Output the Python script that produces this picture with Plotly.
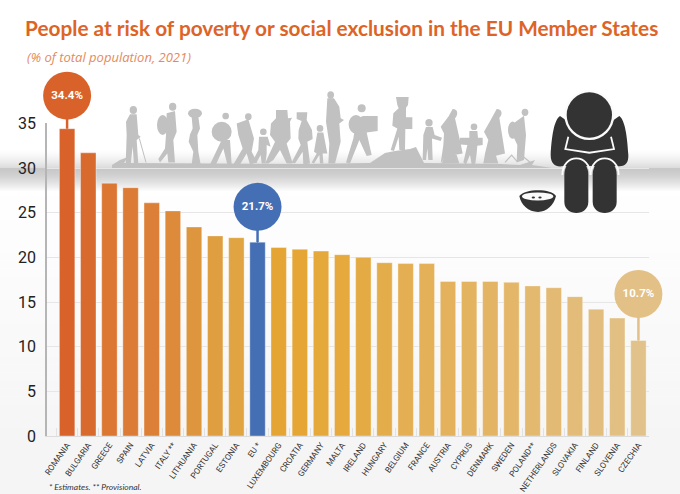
import re
import plotly.graph_objects as go

# ---------- data ----------
countries = ["ROMANIA", "BULGARIA", "GREECE", "SPAIN", "LATVIA", "ITALY **", "LITHUANIA", "PORTUGAL",
             "ESTONIA", "EU *", "LUXEMBOURG", "CROATIA", "GERMANY", "MALTA", "IRELAND", "HUNGARY",
             "BELGIUM", "FRANCE", "AUSTRIA", "CYPRUS", "DENMARK", "SWEDEN", "POLAND**", "NETHERLANDS",
             "SLOVAKIA", "FINLAND", "SLOVENIA", "CZECHIA"]
values = [34.4, 31.7, 28.3, 27.8, 26.1, 25.2, 23.4, 22.4, 22.2, 21.7, 21.1, 20.9, 20.7, 20.3, 20.0,
          19.4, 19.3, 19.3, 17.3, 17.3, 17.3, 17.2, 16.8, 16.6, 15.6, 14.2, 13.2, 10.7]
bar_colors = ["#d8622a", "#d96a2e", "#db7633", "#dc7b35", "#dd8037", "#de8a3b", "#de963e", "#df9f40",
              "#e0a542", "#456fb5", "#e5a534", "#e5a635", "#e5a83a", "#e5a93e", "#e4ab45", "#e4ad4c",
              "#e4ae52", "#e4b058", "#e4b25c", "#e4b360", "#e4b465", "#e4b669", "#e3b86f", "#e3ba74",
              "#e3bc79", "#e3bd7e", "#e2c084", "#e2c28b"]
y_ticks = [0, 5, 10, 15, 20, 25, 30, 35]
callouts = ["ROMANIA", "EU *", "CZECHIA"]
callout_labels = ["34.4%", "21.7%", "10.7%"]
callout_colors = ["#d9622b", "#456fb5", "#e3c085"]
callout_stems = [3.7, 3.95, 5.2]

SANS = "Roboto"
L, R, T, B = 47.0, 649.0, 70.0, 435.7
UNIT = 312.4 / 35            # pixels per percentage point
TOP = (B - T) / UNIT         # value at the top of the drawing region


def px(x):
    return (x - L) / (R - L)


def py(y):
    return (B - y) / (B - T)


def P(d, ox=0.0, oy=0.0, s=1.0):
    """Translate a path written in picture pixels into paper coordinates."""
    toks = re.findall(r"[A-Za-z]|-?\d+\.?\d*", d)
    out, isx = [], True
    for t in toks:
        if t.isalpha():
            out.append(t)
            isx = True
        else:
            v = float(t)
            out.append(f"{px(ox + v * s):.5f}" if isx else f"{py(oy + v * s):.5f}")
            isx = not isx
    return " ".join(out)


shapes = []


def path(d, color, ox=0.0, oy=0.0, s=1.0, layer="between"):
    shapes.append(dict(type="path", xref="paper", yref="paper", path=P(d, ox, oy, s), fillcolor=color,
                       line=dict(width=0), layer=layer))


def stroke(d, color, w, ox=0.0, oy=0.0, s=1.0, layer="between"):
    shapes.append(dict(type="path", xref="paper", yref="paper", path=P(d, ox, oy, s),
                       line=dict(color=color, width=w), layer=layer))


def ell(cx, cy, rx, ry, color, ox=0.0, oy=0.0, s=1.0, layer="between"):
    x, y = ox + cx * s, oy + cy * s
    shapes.append(dict(type="circle", xref="paper", yref="paper", x0=px(x - rx * s), x1=px(x + rx * s),
                       y0=py(y + ry * s), y1=py(y - ry * s), fillcolor=color, line=dict(width=0), layer=layer))


def strip(y0, y1, color, x0=0.0, x1=680.0, layer="between"):
    shapes.append(dict(type="rect", xref="paper", yref="paper", x0=px(x0), x1=px(x1), y0=py(y1), y1=py(y0),
                       fillcolor=color, line=dict(width=0), layer=layer))


def grey(v):
    v = int(round(v))
    return f"rgb({v},{v},{v})"


# page background: white to very light grey
for y in range(180, 494, 8):
    strip(y, y + 8.5, grey(255 - 10 * (y - 180) / 260 if y < 440 else 245), layer="below")

# shadow band behind the figures
for i in range(20):
    y = 148 + i
    strip(y, y + 1.2, grey(255 - 35 * (i / 19) ** 1.6))
for i in range(24):
    y = 168 + i
    strip(y, y + 1.2, grey(200 + 55 * (i / 23) ** 1.5))

# ---------- walking silhouettes ----------
G = "#c1c1c1"
Z5 = dict(ox=110, oy=85, s=1 / 3)
Z6 = dict(ox=320, oy=85, s=1 / 3)
# ground
path("M 112 168 L 112 165 L 120 160 L 128 157 L 124 163 L 300 164 L 370 163 L 385 153 L 395 151 L 410 149 "
     "L 416 147 L 424 163 L 500 164 L 520 165 L 535 160 L 532 165 L 552 168 Z", G)
# man with a cane
ell(70, 75, 11, 12, G, **Z5)
path("M 60 88 L 80 88 L 85 150 L 92 155 L 80 165 L 85 238 L 72 238 L 68 185 L 62 238 L 47 238 L 50 150 L 48 110 Z", G, **Z5)
stroke("M 88 160 L 108 232", G, 1, **Z5)
# backpack walker
ell(188, 65, 11, 12, G, **Z5)
ell(158, 120, 17, 30, G, **Z5)
path("M 170 85 L 195 78 L 200 140 L 190 165 L 195 232 L 175 232 L 172 205 L 150 232 L 145 222 L 165 190 L 168 150 Z", G, **Z5)
# woman with head load
ell(255, 85, 21, 14, G, **Z5)
path("M 245 95 L 265 95 L 270 130 L 262 150 L 265 200 L 272 238 L 245 238 L 250 200 L 236 170 L 240 148 L 248 130 Z", G, **Z5)
# bent walkers
ell(347, 93, 10, 10, G, **Z5)
ell(335, 140, 30, 30, G, **Z5)
path("M 335 165 L 360 165 L 365 238 L 352 238 L 340 190 L 318 238 L 300 238 Z", G, **Z5)
ell(415, 95, 10, 10, G, **Z5)
path("M 380 115 L 415 103 L 432 160 L 425 200 L 442 232 L 420 238 L 410 205 L 390 238 L 370 238 L 398 190 L 385 150 Z", G, **Z5)
# child
ell(460, 140, 10, 10, G, **Z5)
path("M 447 155 L 473 155 L 482 185 L 470 180 L 470 205 L 466 235 L 455 235 L 452 210 L 438 235 L 430 225 L 445 195 Z", G, **Z5)
# loaded walker
path("M 498 75 L 532 75 L 534 100 L 546 98 L 540 110 L 542 160 L 530 175 L 548 235 L 530 235 L 510 195 L 490 225 "
     "L 475 235 L 465 235 L 495 170 L 480 150 L 483 115 L 498 100 Z", G, **Z5)
path("M 560 82 L 592 82 L 590 105 L 606 135 L 608 162 L 592 170 L 600 235 L 580 238 L 578 200 L 555 235 L 545 232 "
     "L 572 180 L 565 160 L 566 135 L 575 108 L 560 102 Z", G, **Z5)
ell(630, 130, 10, 10, G, **Z5)
path("M 622 142 L 640 142 L 652 205 L 638 205 L 640 235 L 630 235 L 628 210 L 612 235 L 605 232 L 620 205 L 612 200 Z", G, **Z5)
# tall walker
ell(32, 30, 10, 11, G, **Z6)
path("M 22 40 L 42 40 L 58 65 L 62 100 L 72 105 L 58 115 L 62 170 L 45 235 L 25 235 L 28 175 L 18 110 Z", G, **Z6)
# box carrier
ell(125, 70, 12, 12, G, **Z6)
ell(108, 118, 22, 28, G, **Z6)
path("M 130 93 L 173 93 L 173 138 L 140 142 L 155 210 L 140 213 L 118 165 L 90 235 L 78 232 L 100 160 L 110 100 Z", G, **Z6)
# head-load carrier
path("M 228 36 L 266 36 L 264 60 L 258 68 L 258 97 L 277 97 L 277 132 L 256 132 L 255 195 L 238 195 L 236 155 L 222 198 "
     "L 212 195 L 232 130 L 217 122 L 220 85 L 236 70 L 232 60 Z", G, **Z6)
# child holding hand
ell(327, 113, 11, 11, G, **Z6)
path("M 318 126 L 338 126 L 344 150 L 366 158 L 362 168 L 336 160 L 338 225 L 325 225 L 322 190 L 318 225 L 308 225 L 310 150 Z", G, **Z6)
# woman in long dress
path("M 398 72 C 415 72 415 90 405 100 L 422 175 L 428 205 L 376 215 L 362 235 L 370 180 L 372 145 L 362 125 L 385 95 Z", G, **Z6)
path("M 375 210 L 410 210 L 418 235 L 365 235 Z", G, **Z6)
# child with box
ell(462, 125, 10, 10, G, **Z6)
path("M 448 138 L 472 138 L 474 158 L 488 158 L 488 180 L 472 182 L 470 205 L 466 235 L 455 238 L 450 210 L 438 238 L 430 232 "
     "L 442 180 L 420 178 L 420 158 L 448 158 Z", G, **Z6)
# woman
path("M 530 72 C 548 72 548 90 538 98 L 555 205 L 528 212 L 535 235 L 490 235 L 495 205 L 505 165 L 492 140 L 512 105 Z", G, **Z6)
# last walker
ell(615, 82, 10, 11, G, **Z6)
ell(578, 135, 14, 26, G, **Z6)
path("M 585 112 L 612 92 L 618 150 L 612 225 L 590 232 L 592 180 L 578 150 Z", G, **Z6)
stroke("M 555 232 L 575 210 L 590 228 L 610 215 L 635 235", G, 1.2, **Z6)

# ---------- seated figure and bowl (coordinates of the 3x crop at 510,80) ----------
D = "#333333"
W = "#fbfbfb"
Z7 = dict(ox=510, oy=80, s=1 / 3, layer="above")
path("M 150 108 C 132 120 125 170 122 225 C 122 255 140 262 160 258 L 320 258 C 345 262 356 250 355 225 "
     "C 352 170 345 120 328 108 L 240 170 Z", D, **Z7)
ell(238, 105, 75, 75, W, **Z7)
ell(238, 105, 68, 68, D, **Z7)
stroke("M 175 170 L 166 207 L 238 218 L 312 207 L 303 170", W, 1.8, **Z7)
path("M 163 285 C 163 225 235 225 235 285 L 235 365 C 235 410 163 410 163 365 Z", D, **Z7)
path("M 248 285 C 248 225 320 225 320 285 L 320 365 C 320 410 248 410 248 365 Z", D, **Z7)
stroke("M 157 285 C 157 218 241 218 241 285", W, 1.8, **Z7)
stroke("M 242 285 C 242 218 326 218 326 285", W, 1.8, **Z7)
# bowl
path("M 28 348 C 45 325 125 325 138 348 C 132 375 110 395 84 396 C 55 395 33 375 28 348 Z", D, **Z7)
ell(83, 349, 47, 12, W, **Z7)
ell(70, 352, 5, 3, D, **Z7)
ell(90, 352, 5, 3, D, **Z7)

# ---------- figure ----------
fig = go.Figure()
fig.add_trace(go.Bar(x=countries, y=values, width=0.73,
                     marker=dict(color=bar_colors, line=dict(color="rgba(255,255,255,0.35)", width=1)),
                     showlegend=False))
for name, label, color, stem in zip(callouts, callout_labels, callout_colors, callout_stems):
    v = values[countries.index(name)]
    fig.add_trace(go.Scatter(x=[name, name], y=[v, v + stem], xaxis="x2", yaxis="y2",
                             mode="lines+markers+text",
                             line=dict(color=color, width=2.5),
                             marker=dict(size=[1, 48], color=color, opacity=1, line=dict(width=0)),
                             text=["", label], textposition="middle center",
                             textfont=dict(family=SANS, size=11.5, color="white", weight="bold"),
                             cliponaxis=False, showlegend=False))

fig.update_layout(
    width=680, height=494, margin=dict(l=L, r=680 - R, t=T, b=494 - B, autoexpand=False),
    paper_bgcolor="white", plot_bgcolor="rgba(0,0,0,0)", shapes=shapes, showlegend=False,
    title=dict(text="People at risk of poverty or social exclusion in the EU Member States",
               x=25 / 680, xanchor="left", y=1 - 29 / 494, yanchor="middle",
               font=dict(family="Lato", size=20.8, color="#dd6426", weight="bold")),
    annotations=[
        dict(text="(% of total population, 2021)", xref="paper", yref="paper", x=px(25), y=py(57),
             xanchor="left", yanchor="middle", showarrow=False,
             font=dict(family="Open Sans", size=13, color="#e58a5c", style="italic")),
        dict(text="* Estimates. ** Provisional.", xref="paper", yref="paper", x=px(47), y=py(487),
             xanchor="left", yanchor="middle", showarrow=False,
             font=dict(family="Lato", size=8.5, color="#333333", style="italic")),
    ],
    xaxis=dict(type="category", categoryorder="array", categoryarray=countries,
               range=[-0.95, 27.5], tickangle=-55, tickson="boundaries", ticks="inside", ticklen=8,
               tickcolor="#e2e2e2", tickwidth=1, showline=True, linecolor="#dcdcdc", linewidth=1,
               showgrid=False, tickfont=dict(family=SANS, size=8.3, color="#333333")),
    yaxis=dict(domain=[0, 35 / TOP], range=[0, 35], tickvals=y_ticks, ticktext=[str(t) for t in y_ticks],
               showgrid=True, gridcolor="#e6e6e6", gridwidth=1, zeroline=False, showline=True,
               linecolor="#b5b5b5", linewidth=1.5, ticks="", ticklabelstandoff=6,
               tickfont=dict(family=SANS, size=16, color="#222222")),
    xaxis2=dict(type="category", categoryorder="array", categoryarray=countries, range=[-0.95, 27.5],
                visible=False, anchor="y2"),
    yaxis2=dict(domain=[0, 1], range=[0, TOP], visible=False, anchor="x2"),
)

fig.write_html("out.html", config=dict(displayModeBar=False),
               post_script="document.body.style.margin='0';document.body.style.overflow='hidden';")
